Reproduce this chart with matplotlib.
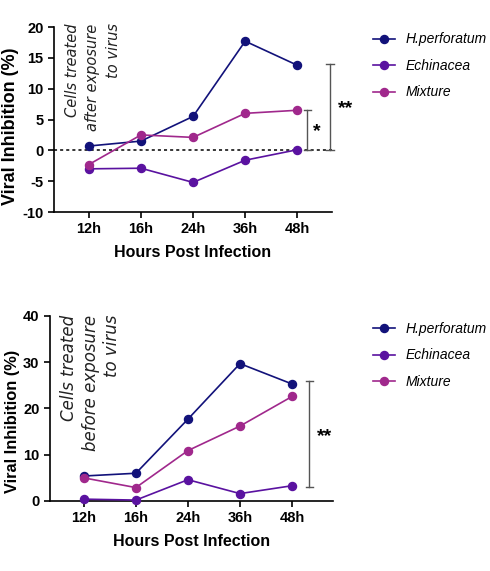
import matplotlib
matplotlib.use("Agg")
import matplotlib.pyplot as plt

plt.rcParams['font.family'] = ['Liberation Sans', 'DejaVu Sans']

hours = ["12h", "16h", "24h", "36h", "48h"]
series_names = ["H.perforatum", "Echinacea", "Mixture"]
colors = ["#12127a", "#5a12a0", "#a0288c"]

after_hperf = [0.7, 1.5, 5.5, 17.7, 13.8]
after_echin = [-3.0, -2.9, -5.2, -1.6, 0.1]
after_mix = [-2.3, 2.5, 2.1, 6.0, 6.5]

before_hperf = [5.4, 6.0, 17.7, 29.7, 25.3]
before_echin = [0.4, 0.2, 4.6, 1.6, 3.3]
before_mix = [5.0, 2.9, 10.9, 16.2, 22.6]

top_yticks = [-10, -5, 0, 5, 10, 15, 20]
bot_yticks = [0, 10, 20, 30, 40]

fig = plt.figure(figsize=(4.9, 5.71), dpi=100)
ax1 = fig.add_axes([0.110, 0.6287, 0.568, 0.324])
ax2 = fig.add_axes([0.102, 0.1226, 0.578, 0.324])

x = list(range(len(hours)))

def style(ax, yticks, xlim, ylab_size, ylab_y):
    for s in ["top", "right"]:
        ax.spines[s].set_visible(False)
    ax.spines["left"].set_linewidth(1.2)
    ax.spines["bottom"].set_linewidth(1.2)
    ax.set_xticks(x)
    ax.set_xticklabels(hours, fontweight="bold", fontsize=10.5)
    ax.set_yticks(yticks)
    ax.set_yticklabels([str(t) for t in yticks], fontweight="bold", fontsize=10.5)
    ax.set_ylim(yticks[0], yticks[-1])
    ax.set_xlim(*xlim)
    ax.tick_params(width=1.2, length=4)
    ax.set_ylabel("Viral Inhibition (%)", fontweight="bold", fontsize=ylab_size,
                  labelpad=2, y=ylab_y)
    ax.set_xlabel("Hours Post Infection", fontweight="bold", fontsize=11.5, labelpad=6)

def draw(ax, data):
    handles = []
    for vals, name, c in zip(data, series_names, colors):
        h, = ax.plot(x, vals, "-o", color=c, lw=1.2, ms=5.8, label=name, clip_on=False, zorder=3)
        handles.append(h)
    return handles

def bracket(ax, xb, y0, y1, w=0.07):
    kw = dict(color="#555555", lw=1.0, clip_on=False)
    ax.plot([xb, xb], [y0, y1], **kw)
    ax.plot([xb - w, xb + w], [y0, y0], **kw)
    ax.plot([xb - w, xb + w], [y1, y1], **kw)

def hand(size, ls):
    return dict(family=["DejaVu Sans"], style="italic", fontsize=size,
                rotation=90, ha="center", va="top", multialignment="right",
                linespacing=ls, color="#222222", clip_on=False)

# Top
h1 = draw(ax1, [after_hperf, after_echin, after_mix])
style(ax1, top_yticks, (-0.67, 4.67), 13, 0.465)
ax1.axhline(0, color="black", ls=(0, (2, 2)), lw=1.1, zorder=1)
bracket(ax1, 4.19, 0, 6.5)
bracket(ax1, 4.63, 0, 14.0)
ax1.text(4.38, 3.0, "*", fontsize=14, fontweight="bold", ha="center", va="center")
ax1.text(4.92, 6.8, "**", fontsize=14, fontweight="bold", ha="center", va="center", clip_on=False)
ax1.text(0.08, 20.6, "Cells treated\nafter exposure\nto virus", **hand(10.5, 1.45))

# Bottom
h2 = draw(ax2, [before_hperf, before_echin, before_mix])
style(ax2, bot_yticks, (-0.65, 4.79), 11.8, 0.43)
bracket(ax2, 4.33, 3.0, 26.0)
ax2.text(4.62, 14.0, "**", fontsize=14, fontweight="bold", ha="center", va="center")
ax2.text(0.13, 40.3, "Cells treated\nbefore exposure\nto virus", **hand(12, 1.25))

leg_kw = dict(frameon=False, prop={"style": "italic", "size": 10},
              handlelength=1.6, labelspacing=0.9, handletextpad=0.8, loc="upper left")
fig.legend(handles=h1, bbox_to_anchor=(0.735, 0.965), **leg_kw)
fig.legend(handles=h2, bbox_to_anchor=(0.735, 0.458), **leg_kw)

fig.savefig("out.png", dpi=100)
